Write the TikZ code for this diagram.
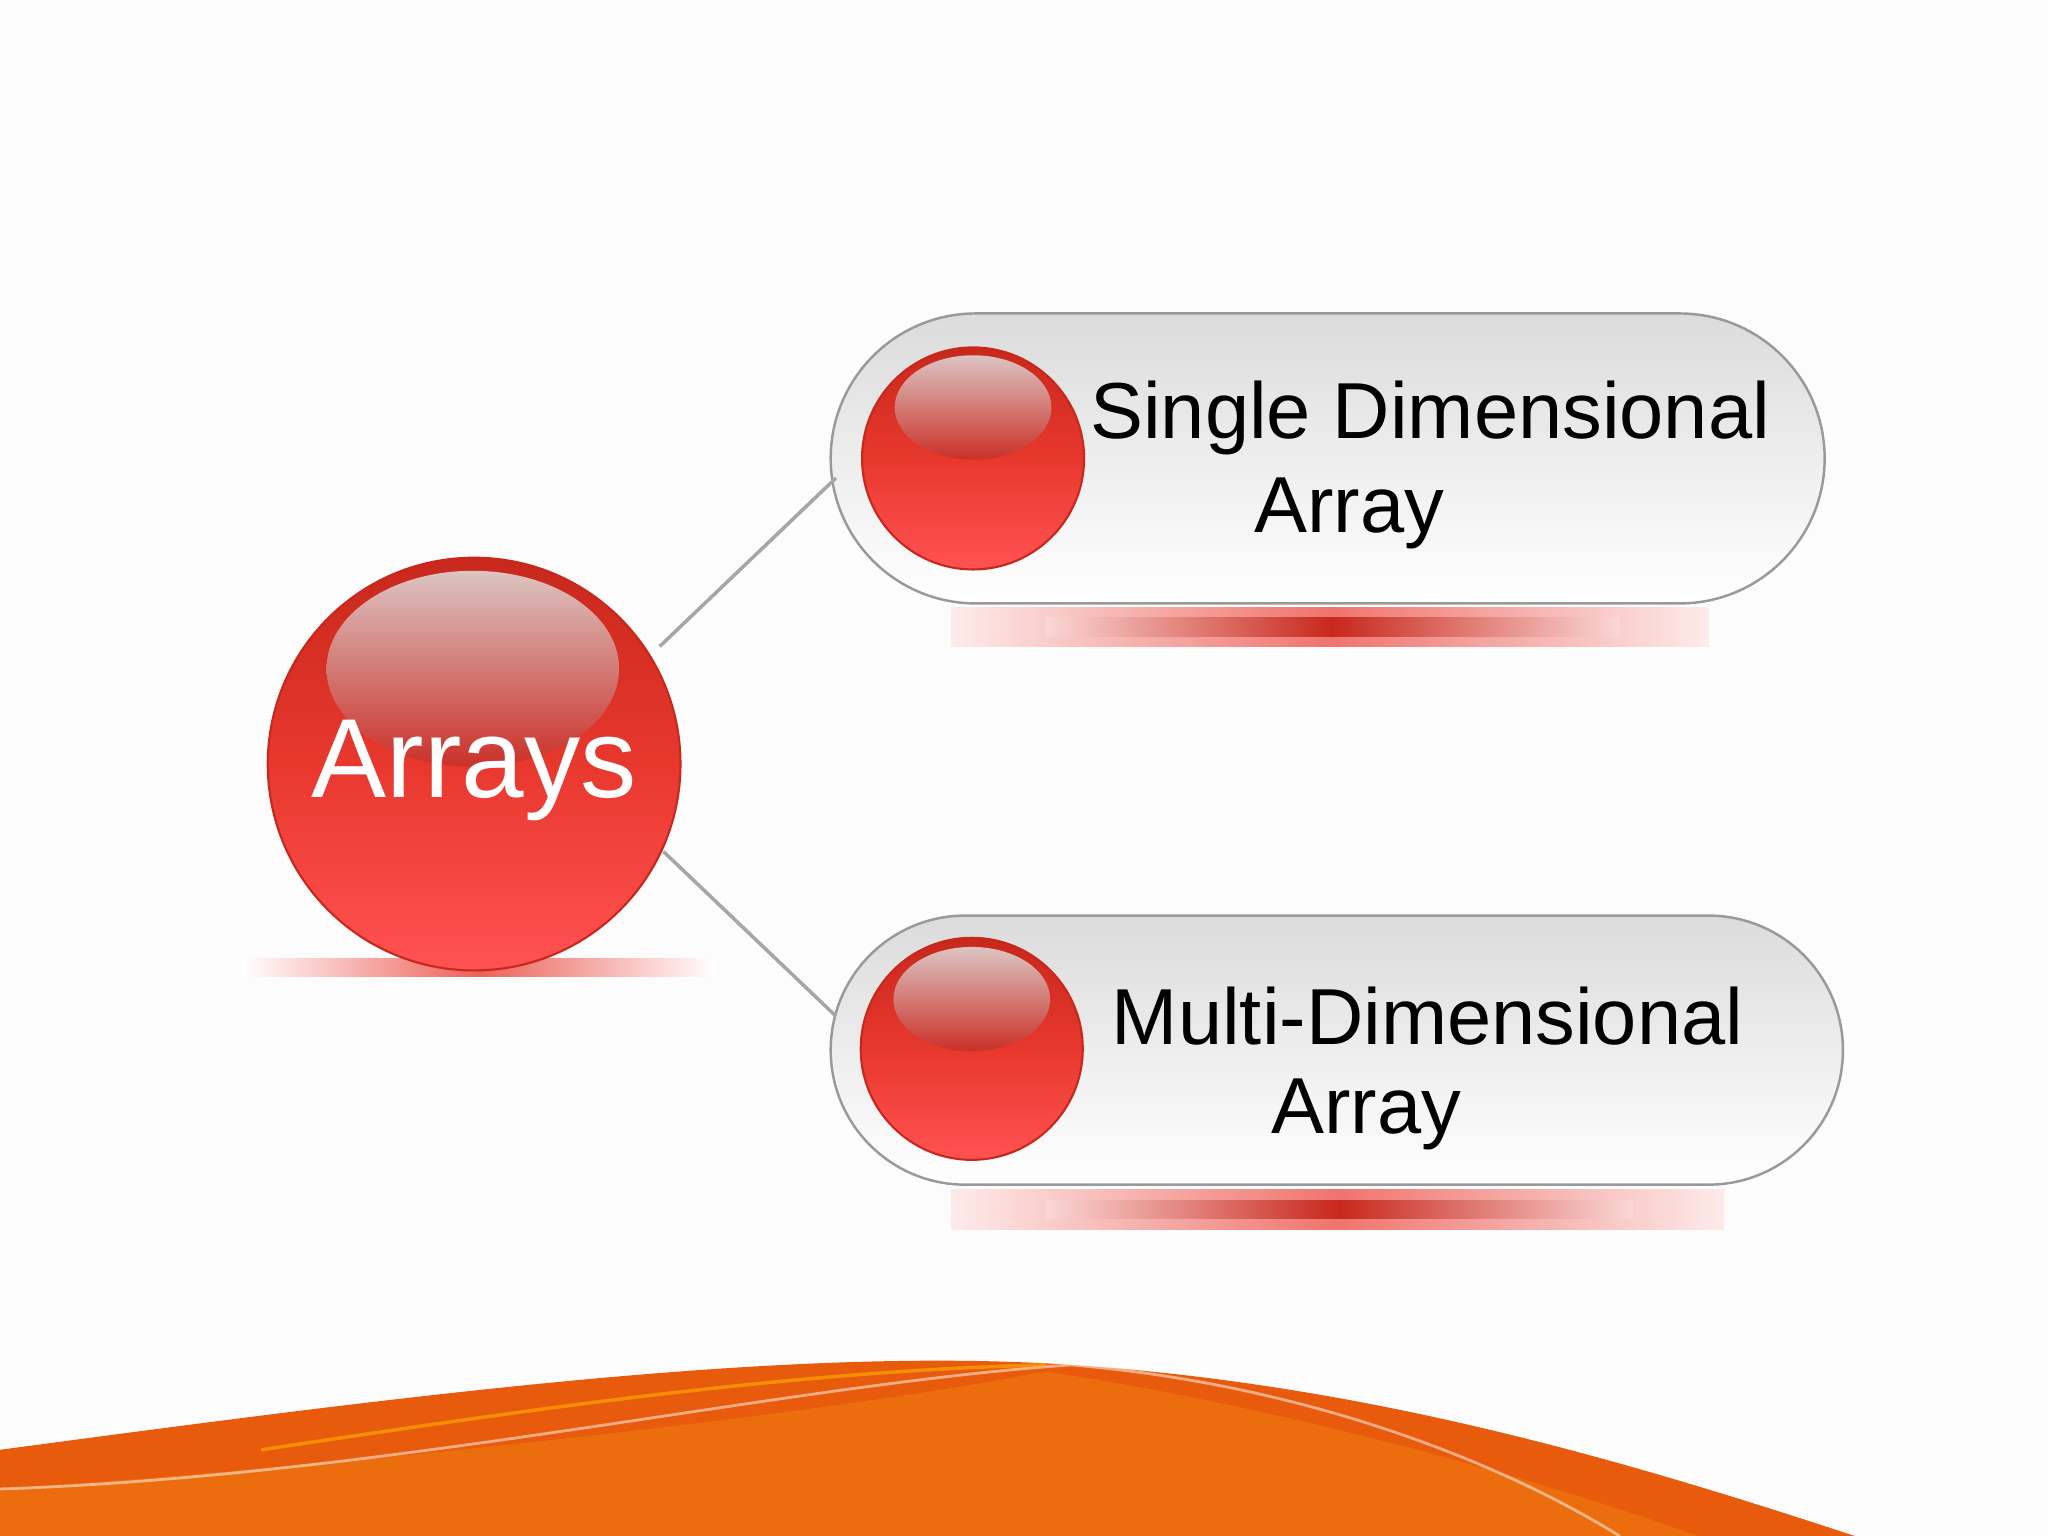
\documentclass[tikz,border=0pt]{standalone}
\usepackage{fontspec}
\setmainfont{Liberation Sans}
\usetikzlibrary{shapes.geometric}
\definecolor{ballred}{HTML}{E8382E}
\definecolor{balldark}{HTML}{C8281C}
\definecolor{balllight}{HTML}{FF5252}
\definecolor{orA}{HTML}{E85A0C}
\definecolor{orB}{HTML}{F07A10}
\tikzset{
 ball/.style={circle,draw=balldark,line width=0.6pt,top color=balldark,bottom color=balllight,middle color=ballred},
 shine/.style={ellipse,top color=white!75!gray,bottom color=ballred!85!black,opacity=0.85},
 pill/.style={draw=gray!80,line width=0.7pt,top color=gray!28,bottom color=white,rounded corners=111*0.013061cm},
 lbl/.style={font=\fontsize{22.6}{27}\selectfont,text=black},
 conn/.style={draw=gray!70,line width=1pt},
 barshadow/.style={left color=ballred!10,right color=ballred!10,middle color=ballred!70}
}
\begin{document}
\begin{tikzpicture}[x=0.013061cm,y=-0.013061cm]
\useasboundingbox (0,0) rectangle (1568,1176);
\fill[white!98!gray] (0,0) rectangle (1568,1176);
% bottom wave
\fill[orA] (0,1110) .. controls (300,1070) and (600,1030) .. (820,1045) .. controls (1050,1060) and (1250,1120) .. (1420,1176) -- (0,1176) -- cycle;
\fill[orB,opacity=0.6] (0,1176) -- (0,1140) .. controls (300,1120) and (650,1080) .. (800,1050) .. controls (1000,1080) and (1200,1140) .. (1300,1176) -- cycle;
\draw[white,opacity=0.5,line width=0.8pt] (0,1140) .. controls (300,1130) and (600,1060) .. (820,1045) .. controls (1000,1060) and (1150,1120) .. (1240,1176);
\draw[orange!60!yellow,opacity=0.6,line width=1pt] (200,1110) .. controls (400,1080) and (600,1050) .. (800,1045);
% shadows
\shade[left color=white,right color=white,middle color=ballred!80] (185,734) rectangle (548,748);
\shade[barshadow] (728,465) rectangle (1308,495);
\shade[left color=ballred!20,right color=ballred!20,middle color=balldark] (800,473) rectangle (1240,487);
\shade[barshadow] (728,911) rectangle (1320,941);
\shade[left color=ballred!20,right color=ballred!20,middle color=balldark] (800,919) rectangle (1250,933);
% pills
\path[pill] (636,240) rectangle (1397,462);
\node[coordinate] (p1) at (640,366) {};
\path[pill,rounded corners=103*0.013061cm] (636,701) rectangle (1411,907);
\node[coordinate] (p2) at (640,778) {};
% main ball
\node[ball,minimum size=316*0.013061cm,inner sep=0] (arr) at (363,585) {};
\node[shine,minimum width=224*0.013061cm,minimum height=150*0.013061cm] at (362,512) {};
\node[text=white,font=\fontsize{32}{36}\selectfont] at (363,590) {Arrays};
\node[coordinate] (a1) at (505,495) {};
\node[coordinate] (a2) at (508,652) {};
% small balls
\node[ball,minimum size=170*0.013061cm,inner sep=0] (b1) at (745,351) {};
\node[shine,minimum width=120*0.013061cm,minimum height=80*0.013061cm] at (745,312) {};
\node[ball,minimum size=170*0.013061cm,inner sep=0] (b2) at (744,803) {};
\node[shine,minimum width=120*0.013061cm,minimum height=80*0.013061cm] at (744,765) {};
% labels
\node[lbl] (t1a) at (1095,320) {Single Dimensional};
\node[lbl] (t1b) at (1033,393) {Array};
\node[lbl] (t2a) at (1093,778) {Multi-Dimensional};
\node[lbl] (t2b) at (1046,853) {Array};
% connectors
\draw[conn] (a1) -- (p1);
\draw[conn] (a2) -- (p2);
\end{tikzpicture}
\end{document}
